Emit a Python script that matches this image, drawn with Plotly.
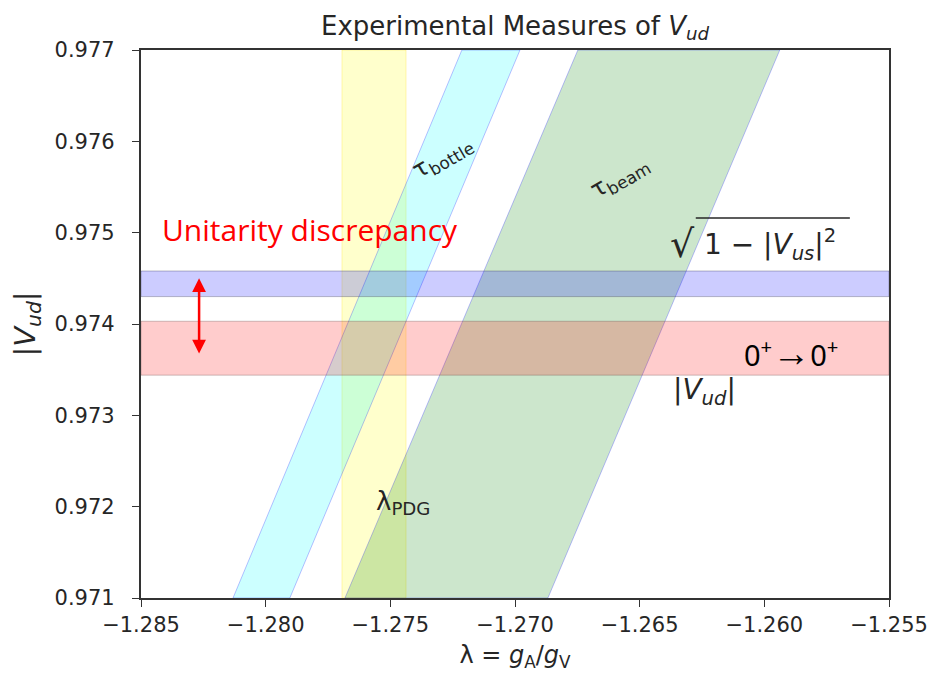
import plotly.graph_objects as go

# ---- data ----
x_range = [-1.285, -1.255]
y_range = [0.971, 0.977]
x_ticks = [-1.285, -1.280, -1.275, -1.270, -1.265, -1.260, -1.255]
y_ticks = [0.971, 0.972, 0.973, 0.974, 0.975, 0.976, 0.977]
y_tick_labels = ["0.971", "0.972", "0.973", "0.974", "0.975", "0.976", "0.977"]

# lambda_PDG vertical band (lambda limits)
lam_pdg = [-1.27694, -1.27437]
# tau_bottle slanted band: lambda edges at Vud=0.971 (bottom) and Vud=0.977 (top)
bottle_left = [-1.28131, -1.27213]
bottle_right = [-1.27903, -1.26980]
# tau_beam slanted band
beam_left = [-1.27682, -1.26748]
beam_right = [-1.26868, -1.25938]
# horizontal bands (Vud limits)
vus_band = [0.97430, 0.97458]
superallowed_band = [0.97344, 0.97403]
# discrepancy arrow ends
arrow_x = -1.28267
arrow_y = [0.97366, 0.97450]

fig = go.Figure()

def poly(xs, ys, fill, line):
    fig.add_trace(go.Scatter(x=xs, y=ys, mode="lines", fill="toself",
                             fillcolor=fill, line=dict(color=line, width=1),
                             hoverinfo="skip", showlegend=False))

y0, y1 = y_range
poly([lam_pdg[0], lam_pdg[1], lam_pdg[1], lam_pdg[0], lam_pdg[0]],
     [y0, y0, y1, y1, y0], "rgba(255,255,0,0.2)", "rgba(255,220,0,0.25)")
poly([bottle_left[0], bottle_right[0], bottle_right[1], bottle_left[1], bottle_left[0]],
     [y0, y0, y1, y1, y0], "rgba(0,255,255,0.2)", "rgba(0,0,255,0.25)")
poly([beam_left[0], beam_right[0], beam_right[1], beam_left[1], beam_left[0]],
     [y0, y0, y1, y1, y0], "rgba(0,128,0,0.2)", "rgba(0,0,255,0.25)")
xa, xb = x_range
poly([xa, xb, xb, xa, xa], [vus_band[0], vus_band[0], vus_band[1], vus_band[1], vus_band[0]],
     "rgba(0,0,255,0.2)", "rgba(60,60,90,0.35)")
poly([xa, xb, xb, xa, xa], [superallowed_band[0], superallowed_band[0], superallowed_band[1], superallowed_band[1], superallowed_band[0]],
     "rgba(255,0,0,0.2)", "rgba(90,70,70,0.3)")

dj = "DejaVu Sans"
ink = "#262626"
ann = []
ann.append(dict(x=-1.27290, y=0.97582, text="τ<sub>bottle</sub>", textangle=-30,
                showarrow=False, font=dict(family=dj, size=24, color=ink)))
ann.append(dict(x=-1.26580, y=0.97560, text="τ<sub>beam</sub>", textangle=-30,
                showarrow=False, font=dict(family=dj, size=24, color=ink)))
ann.append(dict(x=-1.27450, y=0.97205, text="λ<sub>PDG</sub>",
                showarrow=False, font=dict(family=dj, size=26, color=ink)))
ann.append(dict(x=-1.26271, y=0.97488, text="√", xanchor="right",
                showarrow=False, font=dict(family=dj, size=38, color=ink)))
ann.append(dict(x=-1.26250, y=0.97487, text="1 − |<i>V</i><sub><i>us</i></sub>|<sup>2</sup>",
                xanchor="left", showarrow=False, font=dict(family=dj, size=28, color=ink)))
ann.append(dict(x=-1.26239, y=0.97326, text="|<i>V</i><sub><i>ud</i></sub>|",
                showarrow=False, font=dict(family=dj, size=28, color=ink)))
ann.append(dict(x=-1.25894, y=0.97370,
                text="0<sup>+</sup><span style='font-size:38px;font-weight:bold'>→</span>0<sup>+</sup>",
                showarrow=False, font=dict(family="Noto Sans", size=29, color="black")))
ann.append(dict(x=-1.28424, y=0.97503, text="Unitarity discrepancy", xanchor="left",
                showarrow=False, font=dict(family="Open Sans", size=30, color="red")))
ann.append(dict(x=arrow_x, y=arrow_y[1], ax=arrow_x, ay=arrow_y[0], axref="x", ayref="y",
                xref="x", yref="y", text="", showarrow=True, arrowhead=2, startarrowhead=2,
                arrowside="end+start", arrowwidth=2.5, arrowsize=1.1, startarrowsize=1.1,
                arrowcolor="red"))
ann.append(dict(x=0.5, y=1.0, xref="paper", yref="paper", yanchor="bottom", yshift=4,
                text="Experimental Measures of <i>V</i><sub><i>ud</i></sub>",
                showarrow=False, font=dict(family=dj, size=26, color=ink)))

shapes = [dict(type="line", xref="x", yref="y", x0=-1.26275, x1=-1.25657,
               y0=0.975160, y1=0.975160, line=dict(color=ink, width=1.5))]

axis_common = dict(showgrid=False, zeroline=False, showline=True, linecolor="#333333",
                   linewidth=1.5, mirror=True, ticks="outside", ticklen=7, tickwidth=1.2,
                   tickcolor="#333333", automargin=False,
                   tickfont=dict(family=dj, size=21, color=ink))

fig.update_layout(
    width=930, height=680,
    margin=dict(l=141, r=41, t=50, b=82),
    plot_bgcolor="white", paper_bgcolor="white",
    xaxis=dict(range=x_range, tickvals=x_ticks, tickformat=".3f",
               title=dict(text="λ = <i>g</i><sub>A</sub>/<i>g</i><sub>V</sub>",
                          font=dict(family=dj, size=24, color=ink), standoff=10),
               **axis_common),
    yaxis=dict(range=y_range, tickvals=y_ticks,
               ticktext=[t + "\u00a0\u00a0" for t in y_tick_labels],
               title=dict(text="|<i>V</i><sub><i>ud</i></sub>|",
                          font=dict(family=dj, size=29, color=ink), standoff=10),
               **axis_common),
    annotations=ann, shapes=shapes, showlegend=False,
)

fig.write_html("out.html", config={"displayModeBar": False},
               post_script="document.body.style.margin='0';document.body.style.overflow='hidden';")
